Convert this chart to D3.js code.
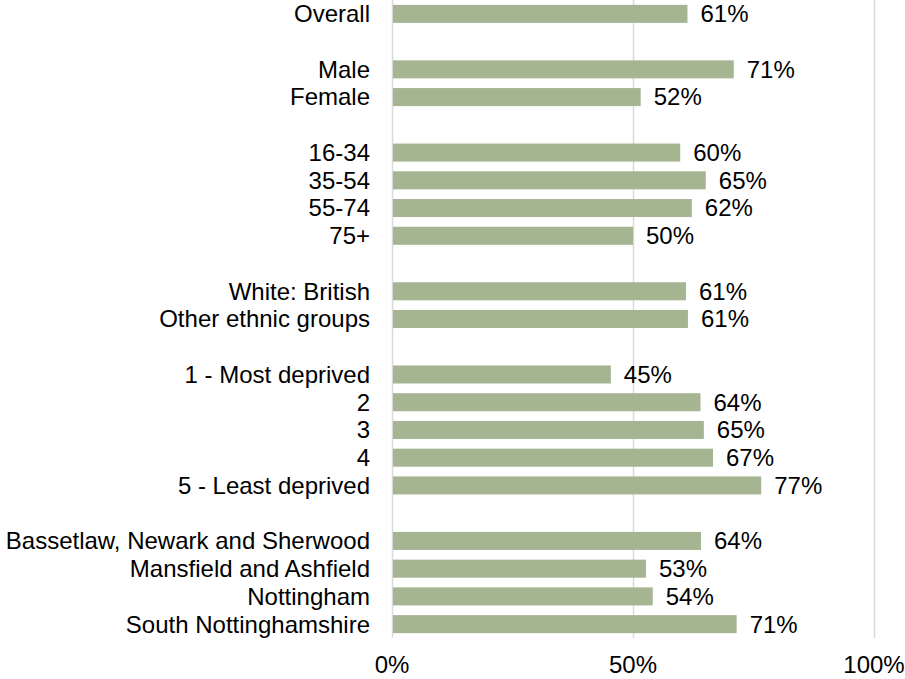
<!DOCTYPE html>
<html><head><meta charset="utf-8">
<script src="https://cdn.jsdelivr.net/npm/d3@7"></script>
<style>body{margin:0;background:#fff}svg{display:block;font-family:"Liberation Sans",Arial,sans-serif}</style>
</head><body>
<svg id="c" width="905" height="679"></svg>
<script>
// "" marks an empty spacer row between groups
const categories = ["Overall","","Male","Female","","16-34","35-54","55-74","75+","","White: British","Other ethnic groups","","1 - Most deprived","2","3","4","5 - Least deprived","","Bassetlaw, Newark and Sherwood","Mansfield and Ashfield","Nottingham","South Nottinghamshire"];
const values = [0.613,null,0.709,0.516,null,0.598,0.651,0.622,0.500,null,0.610,0.614,null,0.454,0.640,0.647,0.666,0.766,null,0.641,0.527,0.541,0.715];
const valueLabels = ["61%","","71%","52%","","60%","65%","62%","50%","","61%","61%","","45%","64%","65%","67%","77%","","64%","53%","54%","71%"];
const xTicks = [0,0.5,1];
const xTickLabels = ["0%","50%","100%"];

const svg = d3.select("#c");
const x = d3.scaleLinear().domain([0,1]).range([392,874]);
const y = d3.scaleBand().domain(d3.range(categories.length)).range([0,638]).paddingInner(0.35).paddingOuter(0.175);

// gridlines
svg.append("g").selectAll("line").data(xTicks).join("line")
  .attr("x1",d=>x(d)+0.5).attr("x2",d=>x(d)+0.5).attr("y1",0).attr("y2",638)
  .attr("stroke","#d9d9d9").attr("stroke-width",1.5);

const rows = d3.range(categories.length).filter(i=>values[i]!==null);

svg.append("g").selectAll("rect").data(rows).join("rect")
  .attr("x",x(0)+1).attr("y",i=>y(i)).attr("width",i=>x(values[i])-x(0)-1).attr("height",y.bandwidth())
  .attr("fill","#a5b592");

svg.append("g").selectAll("text").data(rows).join("text")
  .attr("x",i=>x(values[i])+13).attr("y",i=>y(i)+y.bandwidth()/2).attr("dy","0.35em")
  .attr("font-size",24).attr("fill","#000").text(i=>valueLabels[i]);

svg.append("g").selectAll("text").data(rows).join("text")
  .attr("x",370).attr("y",i=>y(i)+y.bandwidth()/2).attr("dy","0.35em").attr("text-anchor","end")
  .attr("font-size",24).attr("fill","#000").text(i=>categories[i]);

svg.append("g").selectAll("text").data(xTicks).join("text")
  .attr("x",d=>x(d)).attr("y",673).attr("text-anchor","middle")
  .attr("font-size",24).attr("fill","#000").text((d,i)=>xTickLabels[i]);
</script>
</body></html>
